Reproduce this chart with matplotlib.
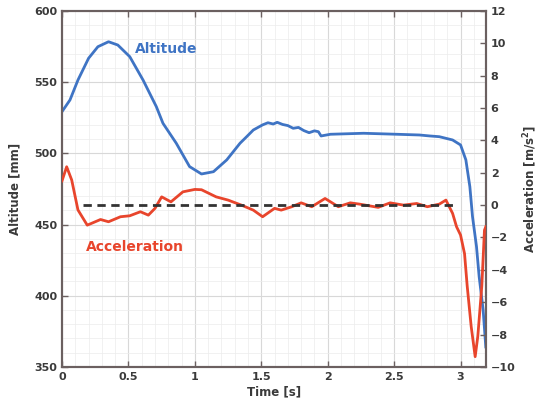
import matplotlib
matplotlib.use("Agg")
import matplotlib.pyplot as plt
from matplotlib.ticker import MultipleLocator
import numpy as np

plt.rcParams['font.family'] = ['DejaVu Sans']
plt.rcParams['font.weight'] = 'bold'

# altitude trace [mm]
alt_t = [0.00, 0.06, 0.12, 0.20, 0.27, 0.35, 0.42, 0.51, 0.61, 0.71, 0.76, 0.86,
         0.96, 1.05, 1.14, 1.24, 1.34, 1.39, 1.44, 1.51, 1.55, 1.59, 1.62, 1.66,
         1.70, 1.74, 1.78, 1.82, 1.86, 1.90, 1.93, 1.95, 2.02, 2.27, 2.52, 2.69,
         2.77, 2.84, 2.94, 3.00, 3.04, 3.07, 3.09, 3.12, 3.14, 3.17, 3.19]
alt_v = [529.3, 537.5, 551.5, 566.8, 574.9, 578.4, 576.1, 567.9, 551.5, 532.8, 521.1, 507.1,
         490.7, 485.5, 487.1, 495.4, 507.1, 511.7, 516.4, 520.0, 521.5, 520.6, 521.8, 520.3,
         519.5, 517.6, 518.2, 516.0, 514.5, 515.8, 515.2, 512.2, 513.4, 514.1, 513.4, 512.9,
         512.2, 511.7, 509.4, 505.9, 495.4, 476.6, 455.6, 434.5, 413.4, 390.0, 364.0]

# acceleration trace [m/s^2]
acc_t = [0.00, 0.035, 0.073, 0.12, 0.19, 0.29, 0.35, 0.44, 0.51, 0.59, 0.65, 0.70,
         0.75, 0.82, 0.91, 1.00, 1.05, 1.16, 1.25, 1.35, 1.44, 1.51, 1.60, 1.65,
         1.73, 1.80, 1.88, 1.98, 2.08, 2.17, 2.24, 2.38, 2.47, 2.57, 2.67, 2.75,
         2.84, 2.89, 2.94, 2.97, 3.00, 3.03, 3.05, 3.08, 3.11, 3.13, 3.16, 3.18, 3.19]
acc_v = [1.5, 2.37, 1.55, -0.3, -1.24, -0.89, -1.03, -0.72, -0.66, -0.41, -0.62, -0.2,
         0.51, 0.2, 0.82, 0.97, 0.95, 0.51, 0.31, 0.0, -0.31, -0.72, -0.2, -0.31,
         -0.1, 0.14, -0.1, 0.41, -0.1, 0.14, 0.06, -0.14, 0.14, 0.0, 0.1, -0.1,
         0.06, 0.31, -0.51, -1.34, -1.85, -3.0, -5.0, -7.5, -9.37, -8.1, -5.0, -1.55, -1.34]

zero_t = [0.16, 2.95]
zero_v = [0.0, 0.0]

BLUE = "#3f74c4"
RED = "#e8452c"
GRAY = "#3a3a3a"

fig = plt.figure(figsize=(5.44, 4.15), dpi=100)
ax1 = fig.add_axes([0.114, 0.116, 0.779, 0.8575])
ax2 = ax1.twinx()

ax1.plot(alt_t, alt_v, color=BLUE, lw=2.0, zorder=3, solid_joinstyle="round")
ax2.plot(acc_t, acc_v, color=RED, lw=2.0, zorder=3, solid_joinstyle="round")
ax2.plot(zero_t, zero_v, color="#333333", lw=2.0, ls=(0, (3, 2)), zorder=4)

ax1.set_xlim(0, 3.19)
ax1.set_ylim(350, 600)
ax2.set_ylim(-10, 12)

ax1.xaxis.set_major_locator(MultipleLocator(0.5))
ax1.xaxis.set_minor_locator(MultipleLocator(0.1))
ax1.yaxis.set_major_locator(MultipleLocator(50))
ax1.yaxis.set_minor_locator(MultipleLocator(10))
ax2.yaxis.set_major_locator(MultipleLocator(2))

ax1.set_xticks([0, 0.5, 1, 1.5, 2, 2.5, 3])
ax1.set_xticklabels(["0", "0.5", "1", "1.5", "2", "2.5", "3"])

ax1.grid(which="major", color="#d8d8d8", lw=0.8)
ax1.grid(which="minor", color="#ececec", lw=0.5)
ax1.set_axisbelow(True)

for a in (ax1, ax2):
    for s in a.spines.values():
        s.set_color("#6b6060")
        s.set_linewidth(1.5)
ax1.tick_params(axis="both", which="major", direction="in", length=4, width=1,
                colors="#6b6060", labelcolor=GRAY, labelsize=8, top=True)
ax1.tick_params(axis="both", which="minor", length=0)
ax2.tick_params(axis="y", direction="in", length=4, width=1,
                colors="#6b6060", labelcolor=GRAY, labelsize=8)

ax1.set_xlabel("Time [s]", fontsize=8.5, fontweight="bold", color=GRAY, labelpad=3)
ax1.set_ylabel("Altitude [mm]", fontsize=8.5, fontweight="bold", color=GRAY, labelpad=9)
ax2.set_ylabel("Acceleration [m/s$^2$]", fontsize=8.5, fontweight="bold", color=GRAY, labelpad=4)

ax1.text(0.55, 573, "Altitude", color=BLUE, fontsize=10, fontweight="bold", va="center")
ax1.text(0.18, 434, "Acceleration", color=RED, fontsize=10, fontweight="bold", va="center")

fig.savefig("out.png", dpi=100)
